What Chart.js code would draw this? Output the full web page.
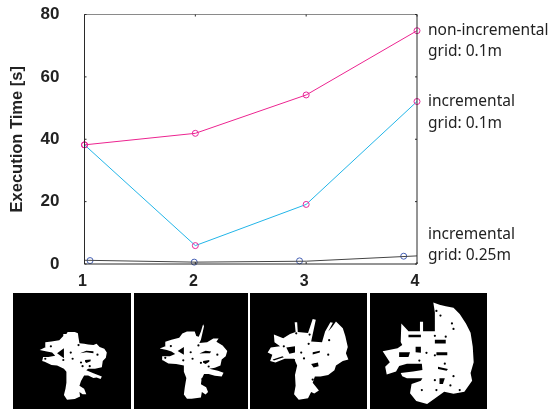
<!DOCTYPE html>
<html>
<head>
<meta charset="utf-8">
<title>Execution time</title>
<script src="https://cdn.jsdelivr.net/npm/chart.js@4/dist/chart.umd.min.js"></script>
<style>
    html, body { margin: 0; padding: 0; background: #fff; }
    #wrap { position: relative; width: 551px; height: 409px; overflow: hidden; }
    #main { position: absolute; left: 0; top: 0; }
    .map { position: absolute; top: 293px; filter: blur(0.5px); }
</style>
</head>
<body>
<div id="wrap">
    <canvas id="main" width="551" height="292"></canvas>
    <canvas id="map1" class="map" style="left:13px" width="118" height="116"></canvas>
    <canvas id="map2" class="map" style="left:134px" width="114" height="116"></canvas>
    <canvas id="map3" class="map" style="left:250px" width="117" height="116"></canvas>
    <canvas id="map4" class="map" style="left:370px" width="117" height="116"></canvas>
</div>
<script>
// Execution time series
const xTicks = [1, 2, 3, 4];
const yTicks = [0, 20, 40, 60, 80];
const nonIncremental01 = [38.2, 41.9, 54.2, 74.8];
const incremental01 = [38.2, 5.9, 19.1, 52.1];
const incremental025 = [1.2, 0.6, 0.9, 2.6];
// blue circles sit a bit left of the line's own x positions in the original
const circleX025 = [1.05, 1.99, 2.94, 3.88];
const circleY025 = [1.1, 0.6, 1.0, 2.5];

const seriesLabels = [
    { lines: ['non-incremental', 'grid: 0.1m'], value: 75 },
    { lines: ['incremental', 'grid: 0.1m'], value: 52 },
    { lines: ['incremental', 'grid: 0.25m'], value: 9.5 }
];

// Occupancy maps, in map units (y grows downwards)
const windowA = [-51, 303, -81, 267];
const outlineA = [[98,38],[108,38],[112,32],[135,32],[145,36],[147,50],[150,68],[165,70],[178,72],[195,74],[205,70],[215,80],[230,86],[238,98],[235,115],[225,125],[222,145],[200,150],[178,150],[172,155],[195,165],[222,175],[218,183],[205,178],[195,180],[178,172],[165,172],[155,190],[150,205],[165,215],[172,232],[160,232],[150,225],[152,240],[135,248],[110,250],[100,235],[105,215],[108,195],[108,160],[100,150],[78,140],[60,138],[38,128],[30,125],[33,112],[50,112],[72,108],[62,98],[45,95],[22,90],[42,80],[40,65],[60,62],[85,58],[98,45]];
const holesA = [
    [[100,84],[100,116],[78,100]],
    [[152,100],[172,92],[195,94],[195,100],[172,97]],
    [[168,122],[186,120],[186,126],[172,132],[168,128]]
];
const dotsA = [[122,98],[128,118],[98,122],[147,74],[208,105],[155,130],[183,142],[160,142],[40,118],[58,78]];

const windowB = [-48, 294, -66, 282];
const outlineB = [[95,52],[110,45],[135,45],[140,60],[148,62],[155,45],[162,22],[165,28],[160,50],[155,72],[150,82],[175,80],[195,68],[212,68],[205,78],[225,90],[240,108],[235,125],[222,135],[218,155],[200,162],[182,165],[210,172],[228,178],[222,190],[200,188],[180,182],[165,182],[157,200],[155,215],[172,225],[178,240],[170,248],[158,240],[155,258],[125,262],[110,262],[100,248],[103,225],[108,195],[100,175],[100,155],[75,150],[50,148],[32,138],[30,125],[55,125],[72,118],[60,110],[45,105],[22,100],[42,92],[40,78],[60,72],[85,65]];
const holesB = [
    [[100,95],[100,120],[80,108]],
    [[150,116],[170,107],[188,110],[184,115],[165,115]],
    [[162,140],[182,137],[182,143],[170,150],[162,146]]
];
const dotsB = [[122,112],[128,133],[98,138],[147,90],[208,120],[155,146],[180,158],[40,130],[58,92],[160,198]];

const windowC = [-24, 327, -51, 297];
const outlineC = [[40,70],[70,82],[92,68],[110,62],[107,30],[115,30],[117,62],[150,65],[165,20],[175,22],[168,55],[160,92],[195,95],[205,60],[222,30],[230,32],[215,60],[228,45],[240,28],[262,50],[270,75],[278,110],[272,130],[280,150],[262,155],[240,170],[235,185],[215,200],[190,205],[172,205],[165,225],[185,250],[170,260],[160,255],[150,275],[120,280],[105,262],[110,235],[108,200],[115,170],[105,148],[75,148],[45,160],[28,155],[35,135],[20,128],[30,112],[60,108],[42,95]];
const holesC = [
    [[80,112],[108,108],[108,128],[90,132]],
    [[165,127],[188,122],[188,128],[165,134]],
    [[36,150],[68,140],[72,143],[40,154]],
    [[160,165],[182,160],[184,172],[168,176]]
];
const dotsC = [[128,128],[137,147],[105,152],[152,100],[215,135],[218,88],[112,66],[155,70],[72,108],[165,215]];

const windowD = [-6, 345, 0, 348];
const outlineD = [[185,18],[205,25],[225,30],[250,35],[270,55],[290,85],[305,115],[312,160],[315,210],[305,245],[310,270],[285,305],[250,312],[220,305],[200,320],[165,345],[130,335],[110,310],[115,280],[145,270],[150,262],[100,262],[85,255],[80,245],[120,240],[150,235],[148,215],[100,215],[75,222],[65,240],[35,250],[30,225],[45,210],[22,175],[70,165],[85,155],[80,145],[82,85],[100,105],[105,110],[142,110],[142,80],[152,80],[152,110],[190,110],[190,50]];
const holesD = [
    [[105,122],[145,122],[145,130],[105,130]],
    [[190,138],[225,138],[225,150],[190,150]],
    [[75,178],[110,178],[105,193],[75,193]],
    [[195,178],[230,178],[230,188],[195,188]],
    [[128,160],[145,160],[145,180],[128,178]],
    [[200,225],[232,232],[228,238],[200,232]],
    [[205,262],[222,262],[216,280],[205,280]]
];
const dotsD = [[245,85],[250,103],[190,125],[225,128],[163,180],[190,188],[140,205],[222,215],[190,268],[148,300],[195,300],[240,285],[270,300],[208,60],[195,45],[250,255]];

// Inward tick marks and frame, gnuplot style
const framePlugin = {
    id: 'frame',
    afterDatasetsDraw(chart) {
        const { ctx, chartArea: a, scales: { x, y } } = chart;
        ctx.save();
        ctx.lineWidth = 1;
        ctx.strokeStyle = '#8a8a8a';
        ctx.beginPath();
        ctx.moveTo(a.left, a.top);
        ctx.lineTo(a.right, a.top);
        ctx.stroke();
        ctx.strokeStyle = '#2a2a2a';
        ctx.beginPath();
        ctx.moveTo(a.left, a.top);
        ctx.lineTo(a.left, a.bottom);
        ctx.lineTo(a.right, a.bottom);
        ctx.lineTo(a.right, a.top);
        xTicks.forEach(v => {
            const px = x.getPixelForValue(v);
            ctx.moveTo(px, a.top);
            ctx.lineTo(px, a.top + 2);
            ctx.moveTo(px, a.bottom);
            ctx.lineTo(px, a.bottom - 2);
        });
        yTicks.forEach(v => {
            const py = y.getPixelForValue(v);
            ctx.moveTo(a.left, py);
            ctx.lineTo(a.left + 2, py);
            ctx.moveTo(a.right, py);
            ctx.lineTo(a.right - 2, py);
        });
        ctx.stroke();
        ctx.restore();
    }
};

// Series names to the right of the plot
const labelPlugin = {
    id: 'seriesLabels',
    afterDraw(chart) {
        const { ctx, chartArea: a, scales: { y } } = chart;
        ctx.save();
        ctx.font = '15.5px "Noto Sans"';
        ctx.fillStyle = '#222';
        ctx.textAlign = 'left';
        ctx.textBaseline = 'middle';
        seriesLabels.forEach(item => {
            const py = y.getPixelForValue(item.value);
            item.lines.forEach((line, i) => ctx.fillText(line, a.right + 11, py + i * 21.5));
        });
        ctx.restore();
    }
};

const blackPlugin = {
    id: 'black',
    beforeDraw(chart) {
        chart.ctx.save();
        chart.ctx.fillStyle = '#000';
        chart.ctx.fillRect(0, 0, chart.width, chart.height);
        chart.ctx.restore();
    }
};

function toPoints(list) {
    return list.map(p => ({ x: p[0], y: p[1] }));
}

function zip(xs, ys) {
    return xs.map((v, i) => ({ x: v, y: ys[i] }));
}

function lineSet(values, color) {
    return {
        data: zip(xTicks, values),
        showLine: true,
        borderColor: color,
        borderWidth: 1,
        pointRadius: 3,
        pointBorderWidth: 1,
        pointBorderColor: '#e8279b',
        pointBackgroundColor: 'transparent',
        clip: false
    };
}

new Chart(document.getElementById('main'), {
    type: 'scatter',
    data: {
        datasets: [
            lineSet(incremental01, '#22b5e8'),
            lineSet(nonIncremental01, '#ec2490'),
            {
                data: zip(xTicks, incremental025),
                showLine: true,
                borderColor: '#444',
                borderWidth: 1,
                pointRadius: 0,
                clip: false
            },
            {
                data: zip(circleX025, circleY025),
                borderColor: '#4560b4',
                backgroundColor: 'transparent',
                borderWidth: 1,
                pointRadius: 3,
                clip: false
            }
        ]
    },
    options: {
        responsive: false,
        animation: false,
        layout: { padding: { top: 14.5, right: 134, bottom: 0, left: 0 } },
        plugins: { legend: { display: false }, tooltip: { enabled: false } },
        scales: {
            x: {
                type: 'linear',
                min: 1,
                max: 4,
                afterBuildTicks(axis) { axis.ticks = xTicks.map(v => ({ value: v })); },
                afterFit(axis) { axis.height = 28; },
                grid: { display: false },
                border: { display: false },
                ticks: {
                    labelOffset: -2,
                    padding: 0,
                    maxRotation: 0,
                    color: '#222',
                    font: { family: '"Liberation Sans"', size: 16, weight: 'bold' }
                }
            },
            y: {
                min: 0,
                max: 80,
                afterBuildTicks(axis) { axis.ticks = yTicks.map(v => ({ value: v })); },
                afterFit(axis) {
                    axis.width = 84.5;
                    axis.paddingTop = 0;
                    axis.paddingBottom = 0;
                },
                grid: { display: false },
                border: { display: false },
                title: {
                    display: true,
                    text: 'Execution Time [s]',
                    color: '#222',
                    padding: { top: 8, bottom: 0 },
                    font: { family: '"Liberation Sans"', size: 16.5, weight: 'bold' }
                },
                ticks: {
                    padding: 17,
                    color: '#222',
                    font: { family: '"Liberation Sans"', size: 17, weight: 'bold' }
                }
            }
        }
    },
    plugins: [framePlugin, labelPlugin]
});

function polySet(list, color) {
    return {
        data: toPoints(list),
        showLine: true,
        borderWidth: 0,
        pointRadius: 0,
        backgroundColor: color,
        fill: 'shape'
    };
}

function drawMap(id, view, outline, holes, dots) {
    new Chart(document.getElementById(id), {
        type: 'scatter',
        data: {
            // first dataset ends up on top, so the white outline goes last
            datasets: [
                { data: toPoints(dots), pointRadius: 1.1, borderWidth: 0, backgroundColor: '#000' },
                ...holes.map(h => polySet(h, '#000')),
                polySet(outline, '#fff')
            ]
        },
        options: {
            responsive: false,
            animation: false,
            layout: { padding: 0 },
            plugins: { legend: { display: false }, tooltip: { enabled: false } },
            scales: {
                x: { display: false, min: view[0], max: view[1] },
                y: { display: false, reverse: true, min: view[2], max: view[3] }
            }
        },
        plugins: [blackPlugin]
    });
}

drawMap('map1', windowA, outlineA, holesA, dotsA);
drawMap('map2', windowB, outlineB, holesB, dotsB);
drawMap('map3', windowC, outlineC, holesC, dotsC);
drawMap('map4', windowD, outlineD, holesD, dotsD);
</script>
</body>
</html>
